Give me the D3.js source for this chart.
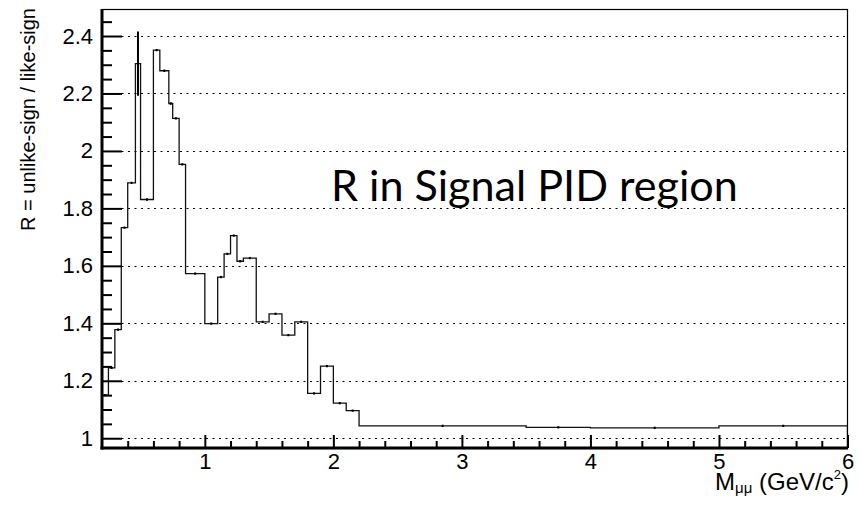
<!DOCTYPE html>
<html>
<head>
<meta charset="utf-8">
<script src="https://cdn.jsdelivr.net/npm/d3@7"></script>
<style>
  html, body { margin: 0; padding: 0; background: #fff; }
  svg { display: block; }
  text { font-family: "Liberation Sans", Arial, Helvetica, sans-serif; fill: #000; }
</style>
</head>
<body>
<svg id="chart" width="862" height="507"></svg>
<script>
// ---- data ----
const binEdges = [0.20, 0.25, 0.30, 0.35, 0.40, 0.46, 0.50, 0.60, 0.65, 0.72, 0.75, 0.80, 0.85,
                  1.00, 1.10, 1.15, 1.20, 1.25, 1.30, 1.40, 1.50, 1.60, 1.70, 1.80, 1.90, 2.00,
                  2.10, 2.20, 3.50, 4.00, 5.00, 6.00];
const ratioValues = [1.150, 1.245, 1.378, 1.733, 1.889, 2.304, 1.831, 2.351, 2.279, 2.165, 2.113, 1.953,
                     1.573, 1.399, 1.561, 1.642, 1.705, 1.616, 1.627, 1.405, 1.433, 1.359, 1.405,
                     1.156, 1.251, 1.122, 1.096, 1.043, 1.038, 1.036, 1.043];
const ratioErrors = [0.004, 0.004, 0.004, 0.004, 0.004, 0.112, 0.004, 0.004, 0.004, 0.004, 0.004, 0.004,
                     0.004, 0.004, 0.004, 0.004, 0.004, 0.004, 0.004, 0.004, 0.004, 0.004, 0.004,
                     0.004, 0.004, 0.004, 0.004, 0.004, 0.004, 0.004, 0.004];
const xMajorTicks = [1, 2, 3, 4, 5, 6];
const yMajorTicks = [1.0, 1.2, 1.4, 1.6, 1.8, 2.0, 2.2, 2.4];
const xDomain = [0.2, 6.0];
const yDomain = [0.966, 2.494];
const yAxisTitle = "R = unlike-sign / like-sign";
const annotation = "R in Signal PID region";

// ---- layout ----
const L = 102, R = 847.5, T = 9, B = 448;
const svg = d3.select("#chart");
const x = d3.scaleLinear().domain(xDomain).range([L, R]);
const y = d3.scaleLinear().domain(yDomain).range([B, T]);

// minor ticks
const xMinor = d3.range(4, 60, 2).map(v => v / 10).filter(v => !xMajorTicks.some(m => Math.abs(m - v) < 1e-6) && v < 6);
const yMinor = d3.range(100, 250, 5).map(v => v / 100).filter(v => !yMajorTicks.some(m => Math.abs(m - v) < 1e-6));

// grid (dotted horizontal at major y ticks)
svg.append("g").selectAll("line").data(yMajorTicks).join("line")
  .attr("x1", L).attr("x2", R)
  .attr("y1", d => Math.round(y(d)) + 0.5).attr("y2", d => Math.round(y(d)) + 0.5)
  .attr("stroke", "#000").attr("stroke-width", 1).attr("stroke-dasharray", "2,4.5");

// clip
svg.append("clipPath").attr("id", "clip").append("rect")
  .attr("x", L).attr("y", T).attr("width", R - L).attr("height", B - T);

// histogram step outline
const pts = [];
pts.push([binEdges[0], yDomain[0]]);
ratioValues.forEach((v, i) => { pts.push([binEdges[i], v]); pts.push([binEdges[i + 1], v]); });
pts.push([binEdges[binEdges.length - 1], yDomain[0]]);
const line = d3.line().x(d => x(d[0])).y(d => y(d[1]));
const gh = svg.append("g").attr("clip-path", "url(#clip)");
gh.append("path").attr("d", line(pts))
  .attr("fill", "none").attr("stroke", "#111").attr("stroke-width", 1.3);

// error bars at bin centres
gh.selectAll("line.err").data(ratioValues).join("line").attr("class", "err")
  .attr("x1", (d, i) => x((binEdges[i] + binEdges[i + 1]) / 2))
  .attr("x2", (d, i) => x((binEdges[i] + binEdges[i + 1]) / 2))
  .attr("y1", (d, i) => y(d - ratioErrors[i]))
  .attr("y2", (d, i) => y(d + ratioErrors[i]))
  .attr("stroke", "#000").attr("stroke-width", 2);

// axes
const fs = 22;
const xAxis = d3.axisBottom(x).tickValues(xMajorTicks).tickSize(-13).tickSizeOuter(0).tickPadding(5)
  .tickFormat(d3.format("d"));
const gx = svg.append("g").attr("transform", `translate(0,${B})`).call(xAxis);
gx.selectAll("text").style("font-size", fs + "px");
gx.selectAll(".tick line").attr("stroke-width", 2);
svg.append("g").attr("transform", `translate(0,${B})`)
  .call(d3.axisBottom(x).tickValues(xMinor).tickSize(-7).tickSizeOuter(0).tickFormat(""))
  .call(g => g.select(".domain").remove())
  .selectAll(".tick line").attr("stroke-width", 2);

const yAxis = d3.axisLeft(y).tickValues(yMajorTicks).tickSize(-20).tickSizeOuter(0).tickPadding(9)
  .tickFormat(d => d3.format("~g")(d));
const gy = svg.append("g").attr("transform", `translate(${L},0)`).call(yAxis);
gy.selectAll("text").style("font-size", fs + "px");
gy.selectAll(".tick line").attr("stroke-width", 2);
svg.append("g").attr("transform", `translate(${L},0)`)
  .call(d3.axisLeft(y).tickValues(yMinor).tickSize(-10).tickSizeOuter(0).tickFormat(""))
  .call(g => g.select(".domain").remove())
  .selectAll(".tick line").attr("stroke-width", 2);

// frame
svg.append("rect").attr("x", L).attr("y", T + 0.5).attr("width", R - L).attr("height", B - T)
  .attr("fill", "none").attr("stroke", "#000").attr("stroke-width", 1.2);
svg.append("line").attr("x1", L).attr("x2", L).attr("y1", T).attr("y2", B + 1.5)
  .attr("stroke", "#000").attr("stroke-width", 3);
svg.append("line").attr("x1", L - 1.5).attr("x2", R + 0.5).attr("y1", B).attr("y2", B)
  .attr("stroke", "#000").attr("stroke-width", 3);
gx.select(".domain").remove();
gy.select(".domain").remove();

// x-axis title
const xt = svg.append("text").attr("x", 849).attr("y", 490).attr("text-anchor", "end")
  .style("font-size", "24px");
xt.append("tspan").text("M");
xt.append("tspan").text("μμ").style("font-size", "15px").attr("dy", 3);
xt.append("tspan").text(" (GeV/c").attr("dy", -3);
xt.append("tspan").text("2").style("font-size", "13px").attr("dy", -11);
xt.append("tspan").text(")").attr("dy", 11);

// y-axis title
svg.append("text").attr("transform", "translate(35,8) rotate(-90)")
  .attr("text-anchor", "end").style("font-size", "20px").text(yAxisTitle);

// annotation
const ann = svg.append("text").attr("x", 331).attr("y", 201)
  .style("font-family", "Lato, 'Open Sans', sans-serif").style("font-size", "48px").text(annotation);
const w = ann.node().getComputedTextLength();
ann.style("font-size", (48 * 407 / w) + "px");
</script>
</body>
</html>
